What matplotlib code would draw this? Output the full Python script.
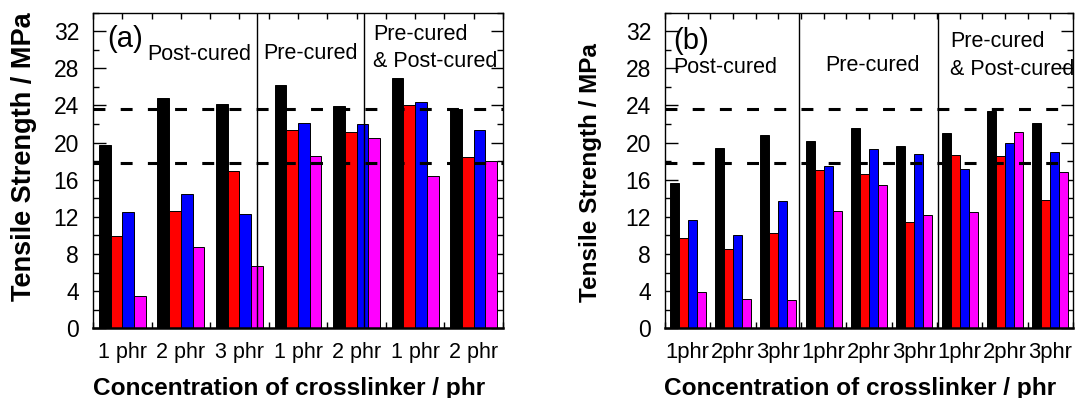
import matplotlib
matplotlib.use("Agg")
import matplotlib.pyplot as plt
import numpy as np
from matplotlib.ticker import MultipleLocator

plt.rcParams['font.family'] = ['Liberation Sans', 'DejaVu Sans']

# Tensile strength (MPa) for the four samples in each crosslinker group
labels_a = ['1 phr', '2 phr', '3 phr', '1 phr', '2 phr', '1 phr', '2 phr']
black_a = [19.7, 24.8, 24.1, 26.2, 23.9, 27.0, 23.6]
red_a = [9.9, 12.6, 16.9, 21.4, 21.1, 24.0, 18.4]
blue_a = [12.5, 14.5, 12.3, 22.1, 22.0, 24.4, 21.3]
magenta_a = [3.5, 8.8, 6.7, 18.5, 20.5, 16.4, 18.0]

labels_b = ['1phr', '2phr', '3phr', '1phr', '2phr', '3phr', '1phr', '2phr', '3phr']
black_b = [15.6, 19.4, 20.8, 20.2, 21.6, 19.6, 21.0, 23.4, 22.1]
red_b = [9.7, 8.5, 10.3, 17.0, 16.6, 11.4, 18.7, 18.5, 13.8]
blue_b = [11.7, 10.0, 13.7, 17.5, 19.3, 18.8, 17.2, 20.0, 19.0]
magenta_b = [3.9, 3.2, 3.1, 12.6, 15.4, 12.2, 12.5, 21.1, 16.8]

# Reference levels shown as dashed lines
ref_levels = [23.6, 17.8]

colors = ['#000000', '#ff0000', '#0000ff', '#ff00ff']

fig = plt.figure(figsize=(10.75, 3.98), dpi=100)
H = 398.0
W = 1075.0
bottom_px, top_px = 328.3, 12.5
ax_a = fig.add_axes([93 / W, (H - bottom_px) / H, 410 / W, (bottom_px - top_px) / H])
ax_b = fig.add_axes([665 / W, (H - bottom_px) / H, 408 / W, (bottom_px - top_px) / H])


def draw_panel(ax, labels, series, separators, xtick_size, ylabel_size, ylabel_xy):
    n = len(labels)
    x = np.arange(n)
    width = 0.2
    for k, (vals, c) in enumerate(zip(series, colors)):
        ax.bar(x + (k - 1.5) * width, vals, width, color=c,
               edgecolor='black', linewidth=0.7, zorder=2)
    for lvl in ref_levels:
        ax.axhline(lvl, color='black', lw=2.2, ls=(0, (3.9, 5.0)), zorder=3)
    for s in separators:
        ax.axvline(s, color='black', lw=1.0, zorder=3)
    ax.set_xlim(-0.5, n - 0.5)
    ax.set_ylim(0, 34)
    ax.set_xticks(x)
    ax.set_xticklabels(labels)
    ax.xaxis.set_minor_locator(MultipleLocator(0.5))
    ax.yaxis.set_major_locator(MultipleLocator(4))
    ax.yaxis.set_minor_locator(MultipleLocator(2))
    ax.set_axisbelow(True)
    ax.tick_params(axis='y', which='major', direction='in', length=9, width=1.0,
                   left=True, right=True, labelsize=16.5, pad=10)
    ax.tick_params(axis='y', which='minor', direction='in', length=4.5, width=1.0,
                   left=True, right=True)
    ax.tick_params(axis='x', which='major', direction='in', length=4, width=1.0,
                   top=True, bottom=False, labelsize=xtick_size, pad=10)
    ax.tick_params(axis='x', which='minor', direction='in', length=4.5, width=1.0,
                   top=True, bottom=True)
    for side in ['left', 'right', 'top']:
        ax.spines[side].set_linewidth(1.0)
    ax.spines['bottom'].set_linewidth(1.8)
    ax.set_xlabel('Concentration of crosslinker / phr', fontsize=17.6, fontweight='bold')
    ax.xaxis.set_label_coords(0.478, -0.211)
    ax.xaxis.label.set_va('baseline')
    ax.set_ylabel('Tensile Strength / MPa', fontsize=ylabel_size, fontweight='bold')
    ax.yaxis.set_label_coords(*ylabel_xy)


draw_panel(ax_a, labels_a, [black_a, red_a, blue_a, magenta_a],
           [2.305, 4.13], 15.5, 19.5, (-0.137, 0.542))
draw_panel(ax_b, labels_b, [black_b, red_b, blue_b, magenta_b],
           [2.463, 5.53], 15.8, 17.5, (-0.155, 0.492))

ax_a.text(0.034, 0.892, '(a)', fontsize=21, va='baseline', ha='left', transform=ax_a.transAxes)
ax_a.text(0.132, 0.851, 'Post-cured', fontsize=15.5, va='baseline', transform=ax_a.transAxes)
ax_a.text(0.415, 0.854, 'Pre-cured', fontsize=15.5, va='baseline', transform=ax_a.transAxes)
ax_a.text(0.683, 0.913, 'Pre-cured', fontsize=15.5, va='baseline', transform=ax_a.transAxes)
ax_a.text(0.683, 0.828, '& Post-cured', fontsize=15.5, va='baseline', transform=ax_a.transAxes)

ax_b.text(0.02, 0.884, '(b)', fontsize=21, va='baseline', ha='left', transform=ax_b.transAxes)
ax_b.text(0.02, 0.807, 'Post-cured', fontsize=15.5, va='baseline', transform=ax_b.transAxes)
ax_b.text(0.392, 0.816, 'Pre-cured', fontsize=15.5, va='baseline', transform=ax_b.transAxes)
ax_b.text(0.699, 0.892, 'Pre-cured', fontsize=15.5, va='baseline', transform=ax_b.transAxes)
ax_b.text(0.699, 0.802, '& Post-cured', fontsize=15.5, va='baseline', transform=ax_b.transAxes)

fig.savefig('out.png', dpi=100)
